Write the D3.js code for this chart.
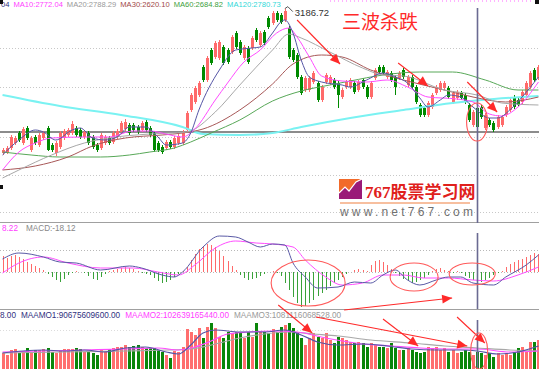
<!DOCTYPE html>
<html><head><meta charset="utf-8">
<script src="https://cdn.jsdelivr.net/npm/d3@7"></script>
<style>body{margin:0;background:#fff}svg{display:block}text{font-family:"Liberation Sans",Arial,sans-serif}</style>
</head><body><svg id="c" width="539" height="369"></svg>
<script>
// ---------------- DATA ----------------
const opens=[2465,2465,2490,2515,2565,2515,2590,2480,2545,2505,
2540,2590,2505,2465,2495,2540,2555,2565,2590,2580,
2545,2565,2545,2505,2490,2515,2540,2520,2545,2570,
2585,2605,2605,2595,2580,2620,2590,2565,2515,2495,
2490,2520,2495,2515,2515,2580,2680,2720,2755,2895,
2830,2980,2945,2940,2995,2980,2970,3065,3020,2940,
2990,2990,3080,3005,3070,3140,3115,3165,3155,3130,
3090,2980,2955,2845,2780,2780,2820,2815,2730,2820,
2815,2830,2815,2745,2795,2795,2815,2780,2830,2795,
2745,2840,2895,2895,2845,2865,2845,2840,2880,2805,
2845,2795,2705,2690,2655,2695,2765,2780,2790,2790,
2720,2740,2765,2755,2705,2605,2690,2695,2590,2630,
2615,2595,2605,2655,2680,2745,2730,2720,2755,2795,
2880,2840];
const highs=[2490,2500,2555,2550,2575,2595,2600,2550,2555,2565,
2575,2600,2515,2525,2575,2585,2590,2625,2600,2590,
2580,2575,2555,2515,2565,2555,2550,2575,2585,2625,
2635,2615,2615,2605,2625,2630,2600,2575,2525,2505,
2530,2530,2550,2560,2580,2675,2765,2800,2825,2905,
2950,2990,3025,3030,3005,2990,3055,3075,3030,3005,
3000,3050,3090,3075,3080,3150,3175,3175,3165,3186.72,
3100,2990,2965,2855,2850,2850,2875,2825,2805,2865,
2855,2840,2825,2790,2830,2840,2825,2830,2840,2805,
2825,2890,2905,2905,2880,2875,2855,2875,2890,2855,
2855,2805,2715,2700,2725,2765,2805,2825,2825,2800,
2775,2780,2775,2765,2715,2680,2700,2705,2665,2640,
2625,2655,2655,2705,2740,2755,2740,2780,2825,2875,
2890,2905];
const lows=[2455,2460,2480,2505,2520,2505,2530,2470,2505,2495,
2530,2475,2470,2450,2485,2530,2545,2555,2545,2535,
2535,2505,2485,2470,2480,2505,2505,2510,2535,2560,
2575,2555,2570,2560,2570,2570,2545,2470,2470,2460,
2480,2485,2485,2505,2505,2570,2670,2710,2745,2820,
2820,2905,2935,2930,2905,2910,2960,2985,2955,2930,
2910,2980,3020,2995,3005,3085,3105,3120,3110,3120,
2935,2920,2835,2755,2770,2770,2810,2720,2720,2810,
2805,2785,2690,2735,2785,2785,2760,2770,2785,2735,
2735,2830,2860,2855,2835,2820,2755,2830,2835,2795,
2785,2710,2645,2645,2645,2685,2755,2770,2780,2735,
2710,2730,2730,2710,2620,2595,2585,2635,2580,2595,
2570,2585,2595,2645,2670,2685,2695,2710,2745,2785,
2820,2830];
const closes=[2480,2490,2545,2540,2530,2585,2540,2540,2515,2555,
2565,2480,2480,2515,2565,2575,2580,2610,2555,2545,
2570,2515,2495,2480,2555,2545,2515,2565,2575,2615,
2620,2565,2580,2570,2615,2580,2555,2480,2480,2470,
2520,2495,2540,2550,2570,2665,2755,2790,2815,2830,
2940,2915,3015,3020,2915,2920,3045,2995,2965,2995,
2920,3040,3030,3065,3015,3095,3165,3130,3120,3175,
2945,2930,2845,2765,2840,2840,2865,2730,2795,2855,
2845,2795,2755,2780,2820,2830,2770,2820,2795,2745,
2815,2880,2870,2865,2870,2830,2795,2865,2845,2845,
2795,2720,2655,2655,2715,2755,2795,2815,2815,2745,
2765,2770,2740,2720,2630,2670,2595,2645,2655,2605,
2580,2645,2645,2695,2730,2695,2705,2770,2815,2865,
2830,2895];
// turnover (100 million yuan)
const volumes=[800,700,950,1000,800,850,1050,850,950,950,
1000,1050,850,800,950,1000,1000,1000,1050,1000,
850,850,800,700,950,900,1000,1050,1100,1100,
1200,1100,1150,1200,1100,1050,1050,1050,950,850,
700,550,900,850,1100,
2000,1850,1700,2050,1550,2100,2300,2050,1600,1550,1850,1800,1850,1800,1550,1850,1600,2300,1850,1850,1800,2000,
1850,2100,2200,2300,2050,1800,1550,1200,1550,1800,
1600,1550,1800,1450,1300,1600,1550,1450,1350,1300,
1350,1300,1100,1300,1200,1100,1100,1050,1300,1050,
950,950,1050,950,850,800,850,1100,1050,1100,
950,1050,850,950,800,850,950,850,700,850,
800,700,800,600,800,700,800,700,850,1050,
1100,850,1350,1350,1450];
const macdHist=[32,28,32,34,30,26,20,16,12,8,
4,-4,-10,-16,-20,-14,-6,-2,2,0,
-2,-8,-14,-16,-10,-4,2,4,6,8,
10,8,6,2,-2,-4,-6,-12,-18,-22,
-20,-16,-10,-4,2,10,24,36,46,52,
56,54,50,42,32,22,12,4,-6,-12,
-16,-14,-12,-8,-4,0,2,-2,-8,-22,
-36,-50,-62,-70,-68,-62,-56,-48,-42,-36,
-28,-22,-16,-10,-4,0,4,6,4,2,
14,22,24,20,14,6,-2,-8,-14,-18,
-22,-20,-16,-12,-6,2,6,8,4,2,
-2,2,-2,-8,-12,-16,-18,-20,-16,-12,
-6,-2,2,10,16,20,24,26,30,34,
38,36];
const difPts=[[0,26],[4,38],[10,30],[14,20],[18,18],[24,4],[31,12],[34,8],[39,-6],[42,-10],[44,0],[49,50],[53,72],[57,70],[60,60],[63,50],[66,56],[69,54],[71,18],[74,-10],[77,-32],[82,-30],[86,-20],[90,-22],[93,-6],[96,4],[99,-16],[102,-26],[106,-16],[109,-10],[112,-10],[115,-22],[120,-26],[123,-10],[128,14],[131,34]];
const deaPts=[[0,-2],[4,18],[10,30],[16,18],[24,8],[32,8],[38,0],[43,-6],[47,14],[52,48],[57,62],[62,58],[66,56],[71,50],[74,24],[79,-10],[83,-26],[88,-22],[93,-6],[98,-6],[103,-12],[109,-12],[115,-16],[120,-18],[126,-6],[131,10]];
const ma5Pts=[[0,2455],[4,2530],[8,2580],[10,2570],[13,2530],[17,2580],[19,2590],[22,2540],[25,2530],[28,2545],[31,2595],[35,2595],[38,2545],[40,2505],[44,2515],[46,2565],[48,2680],[53,2880],[57,2980],[61,2990],[63,2995],[66,3065],[68,3120],[69,3130],[71,3065],[73,2930],[75,2845],[78,2820],[83,2805],[85,2795],[89,2830],[93,2865],[96,2845],[99,2815],[102,2740],[104,2695],[107,2730],[109,2755],[112,2745],[115,2695],[119,2640],[121,2640],[124,2680],[127,2745],[131,2845]];
const ma10Pts=[[0,2380],[4,2470],[8,2515],[12,2540],[20,2545],[26,2545],[32,2575],[36,2575],[41,2555],[44,2545],[47,2585],[52,2730],[55,2815],[59,2920],[63,2980],[67,3065],[70,3090],[72,3045],[75,2945],[78,2850],[83,2825],[89,2820],[94,2830],[99,2795],[104,2745],[111,2735],[115,2720],[119,2660],[122,2650],[126,2695],[131,2820]];
const ma20Pts=[[0,2340],[4,2380],[12,2455],[20,2515],[26,2540],[36,2560],[45,2570],[52,2670],[58,2805],[66,2980],[70,3060],[73,3040],[80,2970],[88,2890],[93,2855],[98,2850],[108,2780],[116,2755],[122,2715],[131,2705]];
const ma30Pts=[[0,2380],[8,2400],[16,2445],[22,2500],[30,2540],[39,2555],[44,2565],[49,2585],[58,2680],[66,2810],[71,2910],[78,2955],[83,2945],[90,2880],[98,2830],[107,2785],[115,2745],[123,2720],[131,2745]];
const ma60Pts=[[0,2470],[7,2455],[14,2445],[24,2445],[31,2455],[36,2470],[42,2490],[46,2520],[51,2565],[58,2630],[66,2725],[73,2775],[80,2805],[85,2825],[93,2855],[102,2870],[110,2870],[118,2830],[126,2780],[131,2780]];
const ma120Pts=[[0,2755],[14,2700],[29,2655],[44,2595],[49,2560],[58,2555],[66,2565],[73,2595],[85,2640],[98,2680],[110,2715],[117,2730],[131,2750]];
const amo1Pts=[[0,800],[5,900],[10,950],[15,900],[20,950],[25,850],[30,1050],[35,1100],[40,850],[43,750],[46,1200],[49,1800],[52,1950],[58,1850],[64,1850],[69,1950],[73,1700],[77,1350],[82,1200],[88,1250],[94,1150],[100,1000],[106,950],[112,950],[116,900],[121,750],[126,850],[131,1150]];
const amo2Pts=[[0,850],[10,900],[20,950],[30,1000],[38,1050],[43,950],[47,1100],[51,1400],[55,1750],[60,1850],[66,1900],[72,1850],[79,1550],[88,1250],[95,1150],[102,1050],[110,1000],[116,1000],[124,850],[131,900]];
const amo3Pts=[[0,800],[15,850],[30,900],[40,950],[46,1000],[52,1250],[58,1550],[64,1750],[70,1850],[76,1750],[82,1650],[90,1450],[100,1300],[108,1150],[116,1050],[124,950],[131,900]];
const peakLabel="3186.72", peakIndex=69, cursorIndex=116;
const mainHeader=[["04","#303080"],["MA10:2772.04","#ff40ff"],["MA20:2788.29","#999999"],["MA30:2620.10","#a04848"],["MA60:2684.82","#40a040"],["MA120:2780.73","#30d8d8"]];
const macdHeader=[["8.22","#ff40ff"],["MACD:-18.12","#888888"]];
const volHeader=[["8.00","#303080"],["MAAMO1:90675609600.00","#303080"],["MAAMO2:102639165440.00","#ff40ff"],["MAAMO3:1081116068528.00","#999999"]];
const titleText="三波杀跌";
const priceArrows=[[72,3130,82.5,2910],[96.7,2915,104,2800],[113.6,2820,120.9,2670]];
const macdArrows=[[83.5,-76,109.9,-52]];
const volArrows=[[67.4,3200,75.7,1800],[76.6,2600,113.6,1150],[93,2500,101.6,1150],[111.1,2600,117.9,1300]];
const priceRings=[[116,2620]];
const macdRings=[[74.7,-22],[100.6,-10],[114.8,-4]];
const volRings=[[116.5,900]];
const priceGrid=[2990,2795,2545,2355,2170];
const priceBase=2570;

// ---------------- SCALES ----------------
const N=closes.length;
const svg=d3.select('#c');
const x=d3.scaleBand().domain(d3.range(N)).range([1,540]).paddingInner(0.25).paddingOuter(0);
const bw=x.bandwidth();
const xf=i=>1+i*x.step()+bw/2;
const y=d3.scaleLinear().domain([2120,3230]).range([222,0]);
const ym=d3.scaleLinear().domain([-100,100]).range([322,222]);
const yv=d3.scaleLinear().domain([0,2600]).range([369,317]);
const RED="#ff6a6a", GREEN="#008a00";

// ---------------- PANEL FRAME ----------------
const g=svg.append('g');
g.selectAll('.pg').data(priceGrid).join('line').attr('x1',0).attr('x2',539)
 .attr('y1',d=>Math.round(y(d))+0.5).attr('y2',d=>Math.round(y(d))+0.5)
 .attr('stroke','#c8c8c8').attr('stroke-dasharray','1,2');
g.append('line').attr('x1',0).attr('x2',539).attr('y1',y(priceBase)).attr('y2',y(priceBase))
 .attr('stroke','#8c8c8c').attr('stroke-width',2.2);
g.append('line').attr('x1',0).attr('x2',539).attr('y1',222.5).attr('y2',222.5).attr('stroke','#a0a0a0');
g.append('line').attr('x1',0).attr('x2',539).attr('y1',309.5).attr('y2',309.5).attr('stroke','#a0a0a0');
[44,0].forEach(v=>g.append('line').attr('x1',0).attr('x2',539).attr('y1',Math.round(ym(v))+0.5).attr('y2',Math.round(ym(v))+0.5)
 .attr('stroke','#b8b8b8').attr('stroke-dasharray','1,2'));
g.append('line').attr('x1',0).attr('x2',539).attr('y1',330.5).attr('y2',330.5).attr('stroke','#dcdcdc').attr('stroke-dasharray','1,2');

// ---------------- WATERMARK ----------------
const wm=svg.append('g');
wm.append('rect').attr('x',339).attr('y',179).attr('width',23).attr('height',20).attr('fill','#f26a2a');
wm.append('path').attr('d','M339,199 L339,193 L345,187 L349,191 L356,182 L362,179 L362,199 Z').attr('fill','#9a1a78');
wm.append('path').attr('d','M339,193 L345,187 L349,191 L356,182 L362,179').attr('fill','none').attr('stroke','#fff').attr('stroke-width',1.2);
wm.append('text').attr('x',365).attr('y',198).attr('font-size',17).attr('font-weight','bold').attr('fill','#e0201c')
 .style('font-family','"Liberation Serif","Noto Sans CJK SC",serif').text('767股票学习网');
wm.append('line').attr('x1',340).attr('x2',470).attr('y1',203).attr('y2',203).attr('stroke','#f08040').attr('stroke-width',1.2);
wm.append('text').attr('x',340).attr('y',216).attr('font-size',12).attr('letter-spacing',3.2).attr('fill','#707070').text('www.net767.com');

// ---------------- CANDLES ----------------
const cg=svg.append('g');
const idx=d3.range(N);
const col=i=>closes[i]>=opens[i]?RED:GREEN;
cg.selectAll('.wk').data(idx).join('line')
 .attr('x1',i=>Math.round(xf(i))+0.5).attr('x2',i=>Math.round(xf(i))+0.5)
 .attr('y1',i=>y(highs[i])).attr('y2',i=>y(lows[i])).attr('stroke',col);
cg.selectAll('.bd').data(idx).join('rect')
 .attr('x',i=>Math.round(xf(i))-1).attr('width',3)
 .attr('y',i=>y(Math.max(opens[i],closes[i])))
 .attr('height',i=>Math.max(1,Math.abs(y(opens[i])-y(closes[i]))))
 .attr('fill',col);

// ---------------- MA LINES ----------------
const lineP=d3.line().x(d=>xf(d[0])).y(d=>y(d[1])).curve(d3.curveMonotoneX);
const mas=[[ma120Pts,'#7af2f2',2],[ma60Pts,'#58a858',1],[ma30Pts,'#a85858',1],[ma20Pts,'#a8a8a8',1],[ma10Pts,'#ff4cff',1],[ma5Pts,'#5656a6',1]];
mas.forEach(([pts,c,w])=>svg.append('path').attr('d',lineP(pts)).attr('fill','none').attr('stroke',c).attr('stroke-width',w));

// ---------------- MACD ----------------
const mg=svg.append('g');
mg.selectAll('.h').data(idx.filter(i=>macdHist[i]!==0)).join('line')
 .attr('x1',i=>Math.round(xf(i))+0.5).attr('x2',i=>Math.round(xf(i))+0.5)
 .attr('y1',ym(0)).attr('y2',i=>ym(macdHist[i]))
 .attr('stroke',i=>macdHist[i]>0?'#ff6a6a':'#3aa23a');
const lineM=d3.line().x(d=>xf(d[0])).y(d=>ym(d[1])).curve(d3.curveMonotoneX);
mg.append('path').attr('d',lineM(deaPts)).attr('fill','none').attr('stroke','#ff4cff');
mg.append('path').attr('d',lineM(difPts)).attr('fill','none').attr('stroke','#5a5aa6');

// ---------------- VOLUME ----------------
const vg=svg.append('g');
vg.selectAll('rect').data(idx).join('rect')
 .attr('x',i=>Math.round(xf(i))-1).attr('width',3)
 .attr('y',i=>yv(volumes[i])).attr('height',i=>369-yv(volumes[i]))
 .attr('fill',i=>closes[i]>=opens[i]?'#ff6e6e':'#0a860a');
const lineV=d3.line().x(d=>xf(d[0])).y(d=>yv(d[1])).curve(d3.curveMonotoneX);
[[amo3Pts,'#a8a8a8'],[amo2Pts,'#ff4cff'],[amo1Pts,'#5656a6']].forEach(([p,c])=>
 vg.append('path').attr('d',lineV(p)).attr('fill','none').attr('stroke',c).attr('stroke-width',1.2));

// ---------------- CURSOR ----------------
const cx=Math.round(xf(cursorIndex))+0.5;
[[8,223],[233,309],[320,369]].forEach(([a,b])=>svg.append('line').attr('x1',cx).attr('x2',cx).attr('y1',a).attr('y2',b)
 .attr('stroke','#6a6a92').attr('stroke-width',1.6));

// ---------------- HEADERS ----------------
function header(items,x0,yb,gaps,fs){
 let xx=x0;
 items.forEach(([t,c],k)=>{
  const el=svg.append('text').attr('x',xx).attr('y',yb).attr('font-size',fs).attr('fill',c).text(t);
  xx+=el.node().getComputedTextLength()+gaps;
 });
}
header(mainHeader,1,6.5,4,7.6);
header(macdHeader,2,231,8,8.2);
header(volHeader,0,318,5,8.2);
svg.append('rect').attr('x',0).attr('y',0).attr('width',3).attr('height',4).attr('fill','#111');
svg.append('rect').attr('x',535).attr('y',0).attr('width',4).attr('height',4).attr('fill','#111');
svg.append('rect').attr('x',0).attr('y',185).attr('width',3).attr('height',4).attr('fill','#111');
svg.append('line').attr('x1',330).attr('x2',533).attr('y1',1).attr('y2',1).attr('stroke','#ff66ff').attr('stroke-dasharray','1,3');

// peak label
const px=xf(peakIndex), py=y(highs[peakIndex]);
svg.append('path').attr('d',`M${px},${py} L${px+3},${py-2} L${px+8},${py+3}`).attr('fill','none').attr('stroke','#555');
svg.append('text').attr('x',px+10).attr('y',py+7).attr('font-size',9.5).attr('fill','#333').text(peakLabel);

// ---------------- ANNOTATIONS ----------------
const RC='#ff2a2a';
svg.append('text').attr('x',xf(83)).attr('y',y(3085)).attr('font-size',19).attr('fill',RC)
 .style('font-family','"Noto Sans CJK SC",sans-serif').text(titleText);
function arrow(x1,y1,x2,y2){
 svg.append('line').attr('x1',x1).attr('y1',y1).attr('x2',x2).attr('y2',y2).attr('stroke',RC).attr('stroke-width',1.1);
 const a=Math.atan2(y2-y1,x2-x1),L=10,w=4.5;
 const bx=x2-L*Math.cos(a), by=y2-L*Math.sin(a);
 svg.append('path').attr('d',`M${x2},${y2} L${bx+w*Math.sin(a)},${by-w*Math.cos(a)} L${bx-w*Math.sin(a)},${by+w*Math.cos(a)} Z`).attr('fill',RC);
}
priceArrows.forEach(d=>arrow(xf(d[0]),y(d[1]),xf(d[2]),y(d[3])));
macdArrows.forEach(d=>arrow(xf(d[0]),ym(d[1]),xf(d[2]),ym(d[3])));
volArrows.forEach(d=>arrow(xf(d[0]),yv(d[1]),xf(d[2]),yv(d[3])));
function ring(cx,cy,rx,ry){svg.append('ellipse').attr('cx',cx).attr('cy',cy).attr('rx',rx).attr('ry',ry).attr('fill','none').attr('stroke','#ff5a5a').attr('stroke-width',1.1);}
priceRings.forEach(d=>ring(xf(d[0]),y(d[1]),10.5,19));
const mr=[[37,23],[24,14],[23,11]];
macdRings.forEach((d,k)=>ring(xf(d[0]),ym(d[1]),mr[k][0],mr[k][1]));
volRings.forEach(d=>ring(xf(d[0]),yv(d[1]),8.5,18));
</script></body></html>
